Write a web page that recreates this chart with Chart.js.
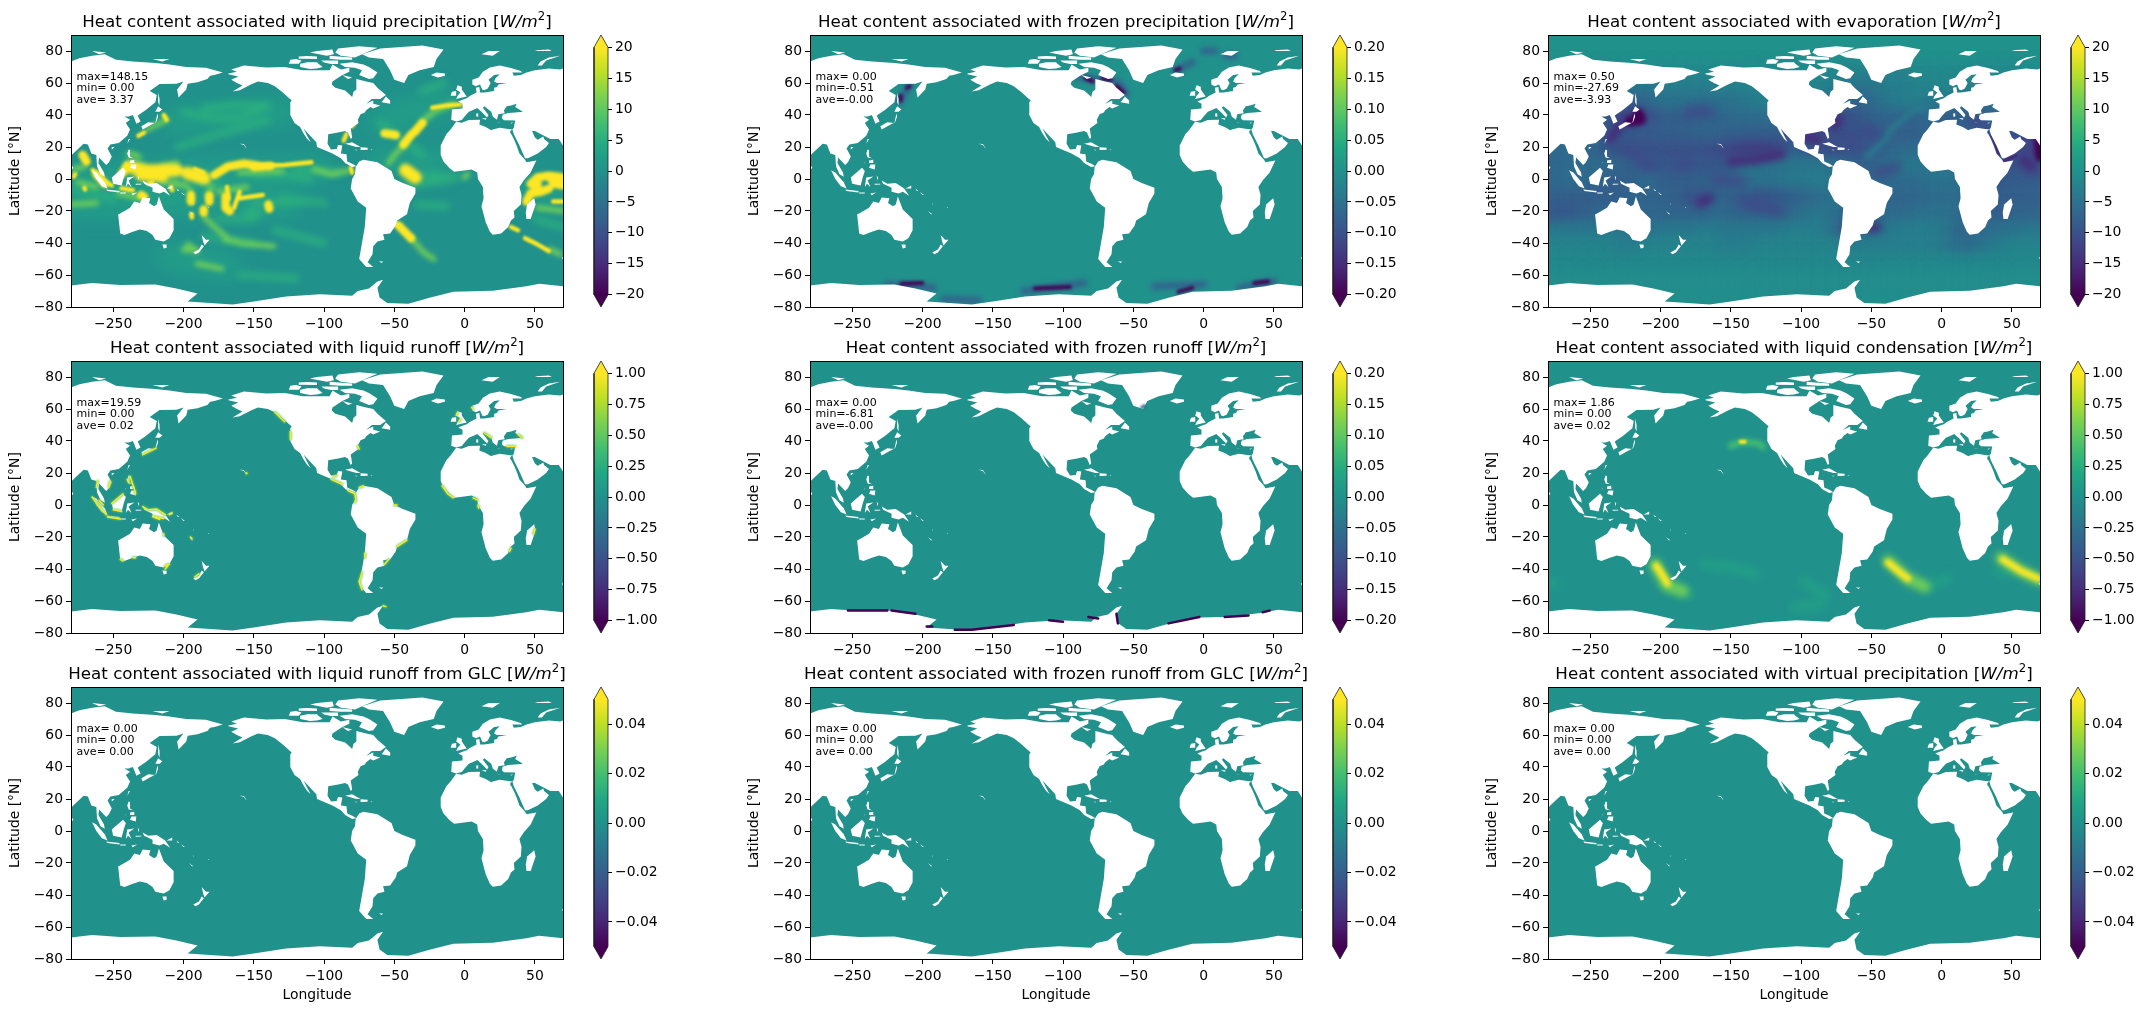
<!DOCTYPE html>
<html><head><meta charset="utf-8">
<style>html,body{margin:0;background:#fff;overflow:hidden}canvas{position:absolute}</style>
<script src="https://cdn.jsdelivr.net/npm/chart.js@4"></script>
</head><body>
<script>
// Axis ticks shared by the nine map panels
const lonTicks = [-250,-200,-150,-100,-50,0,50];
const latTicks = [-80,-60,-40,-20,0,20,40,60,80];

// Panel names and the statistics printed in each map
const panelNames = ['liquid precipitation','frozen precipitation','evaporation','liquid runoff','frozen runoff','liquid condensation','liquid runoff from GLC','frozen runoff from GLC','virtual precipitation'];
const statMax = ['max=148.15','max= 0.00','max= 0.50','max=19.59','max= 0.00','max= 1.86','max= 0.00','max= 0.00','max= 0.00'];
const statMin = ['min= 0.00','min=-0.51','min=-27.69','min= 0.00','min=-6.81','min= 0.00','min= 0.00','min= 0.00','min= 0.00'];
const statAve = ['ave= 3.37','ave=-0.00','ave=-3.93','ave= 0.02','ave=-0.00','ave= 0.02','ave= 0.00','ave= 0.00','ave= 0.00'];

// Colour limits and colour bar ticks
const panelLimits = [20,0.2,20,1,0.2,1,0.05,0.05,0.05];
const ticksWide = [-20,-15,-10,-5,0,5,10,15,20];
const ticksUnit = [-1,-0.75,-0.5,-0.25,0,0.25,0.5,0.75,1];
const ticksTenth = [-0.2,-0.15,-0.1,-0.05,0,0.05,0.1,0.15,0.2];
const ticksSmall = [-0.04,-0.02,0,0.02,0.04];

// Land outlines as lon,lat pairs; eastern longitudes past 75 wrap to the negative side
const landShapes = [
 // Asia, eastern part
 [75.5,72,86,75.5,95,77,104,78,112,74.5,124,73.5,140,72.5,150,71.5,162,70,176,69.5,188,66.5,182,65,179,64.5,177,62.5,170,60.5,163,59.5,162,56,156.5,51,155.5,56,160,61,155,59.5,143,59.3,136,55,141,52.5,140,48,133,43,128,40,127.5,39.5,129.5,36,126.5,34.5,125,38,124,40,121,39,118,39,122,37,119,35,122,31,120,27,114,22.5,108,21.5,106,19,109,14,107,10.5,105,8.7,100,13.5,99.5,10,103.5,4,104,1.4,101,3,98.5,8,98,15,94.5,16,92,21.5,89,22,86.5,20,80.5,15,80,12,77.5,8,75.5,10],
 // Eurasia, western part
 [75,70.6,68,68.5,60,69,50,68,44,66.5,40,65,35,64.5,34,66.5,41,66.5,40,67.5,33,69.3,25,71,18,69.7,13,67,10,63.5,5.5,62,5.5,59,8,58,11,59,12.5,56,14,55.5,16.5,56.5,18.5,60,17,62,21,65,25,65.5,22,63,21,61,23,60,30,60,24,59,23,57.5,21,57,21,55,14,54,11,54,10.5,57.5,8,57,8.5,54,4,52,1.5,50.5,-1.5,49.5,-4.5,48.5,-1.5,47,-1.5,44,-9,43.5,-9.5,37,-6,36,-2,36.8,0,39,3,42,6,43.2,9,44.3,12,42,16,38.5,17,40,13,44.5,14,45.5,19,42,20,39,23,37,24,40.5,27,41,28.5,41,28,43,30,45.5,33,46,37,47,36,45,41.5,42,36,41.5,31,41.2,27,40.2,26.5,38,28,36.7,36,36.5,35,32,34,31,35,28,39,21,43,13,45,13,52,16,58,20,60,22.5,56.5,25,56,26.5,52,24.5,50,26,48,30,50,30,56.5,27,61,25,67,25,70,21,75,20],
 // Africa
 [-6,35.8,-10,31,-13,28,-17,21,-17,15,-15,11,-11,7,-7.5,4.5,-3,5,5,6,9,4,9.5,0,13,-5,13.5,-12,12,-17,15,-27,18,-33,20,-34.8,26,-34,31,-30,33,-26,35.5,-24,35,-20,40,-16,40.5,-10,39,-5,42,-1,47,4,51,11.5,44,10.5,43,12,39,16,37,21,35,25,33,28.5,32.5,30,34,31,31,31.3,25,32,20,31,19,30.5,15,32.5,10.5,34,11,37,3,36.8,-2,35.2],
 [49.5,-12,50.5,-16,47,-25,44,-25,43.5,-21,44.5,-16],
 // North and Central America
 [-168,66,-162,67,-166,68.5,-157,71,-141,69.7,-128,70,-115,68,-108,68,-96,68,-94,71.5,-88,68.5,-82,69.5,-82,67,-87,65,-94,61,-94.5,59,-92,57,-85,55.3,-82,53,-80,51.3,-79,54.5,-77,56,-77,62.5,-70,61,-65,60,-62,57,-56,52.5,-60,50,-66,50,-70,47,-65,49,-65,47,-60,46,-65,44,-67,45,-70,43,-71,41.5,-74,40.5,-76,37,-75.5,35,-81,31.5,-80,26,-81,25,-83,29,-85,30,-90,29,-97,28,-97.5,22,-95,18.5,-91,18.7,-90,21.3,-87,21,-88,16,-84,15.5,-83.5,11,-79.5,9.3,-77,8,-80,7.5,-85,10,-88,13,-94,16,-105,20,-105.5,23,-112,29,-114.5,31.5,-112,27,-109.5,23,-112,25,-115,29,-117,32.5,-121,35,-124,40,-124,48,-123,49,-130,54.5,-135,58,-140,60,-147,61,-152,59,-160,55.5,-165,54.7,-158,58.5,-162,60,-166,62,-161,64,-168,65.5],
 // South America
 [-72,12,-62,10.5,-52,5,-50,0,-44,-2.5,-35,-5.5,-35,-9,-39,-15,-41,-22,-48,-26,-49,-29,-53,-34,-58,-34.5,-57,-38,-62,-39,-65,-42,-65.5,-47,-69,-52,-65,-55,-70,-55,-75,-50,-73,-40,-71,-30,-70,-18,-76,-14,-81,-6,-80,0,-78,3,-77.5,7.5,-75,11],
 // Greenland and the Arctic islands
 [-73,78,-60,81.5,-30,83.5,-15,81,-20,75,-22,70,-32,68,-40,65,-43,60,-50,62,-53,68,-58,75,-68,76],
 [-80,73,-72,71.5,-68,70,-62,66.5,-65,63,-68,62.5,-75,65,-73,68,-78,69.5,-85,70,-89,72],
 [-117,70,-110,68.7,-105,69,-101,70,-104,72,-105,73,-112,73,-117,72],
 [-125,72,-118,72,-116,74,-120,75,-124,74.5],
 [-88,77,-78,76,-70,79,-62,82,-75,83,-90,81.5,-92,79],
 [-96,75,-88,74.6,-80,74.5,-80,76,-90,76.6,-96,77],
 [-118,75.2,-105,75,-105,76.5,-112,76.8,-118,76.5],
 [-102,74,-90,74,-90,71.8,-95,71.8,-100,72.8],
 [-110,79,-98,77,-93,78,-94,81,-105,80],
 [-59,48,-53,47,-53,49,-56,51.5],
 [-87,65,-80,63.5,-83,62.5],
 [-24,65,-20,66.5,-14,66,-14,64.5,-19,63.5],
 [12,78,17,80,25,80,20,77],
 [52,71,55,71,58,74,68,77,60,76,54,73.5],
 [50,80.5,60,81,62,80,52,80],
 [95,80,105,79,100,78],
 [138,75,150,75,145,73.5],
 // British Isles and Mediterranean islands
 [-6,50,1.5,51.5,0,53.5,-2,56,-2,57.7,-5,58.6,-6,56,-3,54,-5,52],
 [-10,52,-6,52,-6,55,-9,54.5],
 [8.3,39,9.7,39,9.7,41,8.3,41],[12.5,38,15.5,38,15.2,37,12.8,37.6],[23.5,35.3,26.2,35.2,26,35.1,23.6,35.1],[32.5,35,34.5,35.5,33.5,34.7],
 // Caribbean
 [-85,22,-80,23,-74,20,-77,20],[-74,19.8,-69,19.5,-69,18.3,-74,18.2],[-78.3,18.5,-76.3,18.2,-77,17.8],[-67,18.5,-65.7,18.4,-66,18],
 // South-east Asia and the western Pacific
 [120,22,122,25,121,25],[109,18.5,111,20,109,20],[120,16,121,18.5,122,18,122,14,124,13,121,13.5],[122,7,126,6,126.5,9,123,9],[117.5,8.5,119.5,11,119,10.5],[122,10,125,10,125,12,122,11.5],
 [109,1,117,7,119,5,117.5,1,116,-4,110,-3],[95,5.5,98,4,104,-2,106,-6,102,-4.5,98,0],[105,-6.5,114.5,-7.5,114.5,-8.5,106,-7.5],[119,-5,120,1,125,1.5,121,-1,123,-5,120.5,-3],[115,-8.5,119,-8.5,119,-9,115,-9],[123,-9,127,-8.5,124,-10.2],[127.5,2,128.5,1,128,-1],[126,-3,130,-3,130,-3.5,126,-3.6],[131,-1,135,-3,141,-2.5,147,-6,150.5,-10.5,146,-8,143,-9,138,-8,138,-5.5,132,-3],[148,-6,152,-4,152,-6],[155,-6,157,-7.5,156,-7.5],[158,-8,161,-10,160,-10],[164,-20,167,-22,166,-22],[177.5,-17.5,178.5,-18,177.5,-18],[167,-15,167.5,-16,167,-16],
 [142,54,143,50,143,46,142,48],[140,35,141.5,41,142,39,140.5,35.5,136,33.5,131,31,130,33,135,35.5],[140,42,142,45.5,145,43.5,143,42],[79.7,9.5,81.7,7,80.5,6,79.8,7],
 [-160,22,-157,21.3,-156,20,-155,19,-155.6,20,-157,21.8],
 // Australia and New Zealand
 [113.5,-22,114,-26,115,-34,118,-35,124,-33,129,-31.5,134,-32.5,138,-35,140,-38,146,-39,150,-37,153,-32,153,-25,146,-19,142.5,-11,141,-16,139,-17,135.5,-15,136.5,-12,131,-11.5,129,-15,125,-14,122,-18,114,-22],
 [145,-41,148,-41,148,-43,146,-43.5],[167,-46,171,-44,173,-41,174.5,-42,171,-46,168.5,-47],[173,-35,176,-38,178.5,-38,175,-41.5,174,-39],
 // Antarctica
 [-285,-67,-265,-65,-245,-66.3,-220,-66,-205,-68.5,-190,-71.5,-197,-76.5,-165,-78.5,-150,-76.5,-127,-73.5,-103,-72,-80,-73,-76,-70,-68,-68.5,-62,-64,-58,-63,-62,-68,-60.5,-74,-55,-77.5,-40,-78,-25,-74.2,-8,-70.5,20,-69.8,44,-67,53,-65.5,75,-67.5,75,-90,-285,-90],
 // Small southern islands
 [-61,-51.5,-58,-51.5,-59,-52.5],[69,-49,70,-49,70,-50]
];

// Liquid precipitation: rain bands as lon,lat polylines, grouped by strength
const rainBase = [[-280,0,-105,6],[-280,-15,-125,-15],[40,-8,70,-8],[-60,10,-20,10],[-205,36,-130,42],[-60,36,-15,48],[-210,-48,-170,-55]];
const rainFaint = [[-200,42,-180,38,-160,38,-142,45],[-204,20,-173,28.6,-140,37],[-185,44,-165,46,-140,46],[-280,-6,-250,-12],[-150,-15,-110,-14],[-130,-12,-100,-15],[-185,-36,-150,-40],[-135,-32,-100,-40],[-160,-60,-120,-62],[-45,-5,-10,0],[-30,15,-60,35],[-30,55,-15,60],[50,-25,70,-30],[-120,7,-90,4],[-30,3,-5,1],[-175,-25,-150,-25],[-34,-16,-13,-17],[-130,3,-110,0],[-240,14,-230,10],[-190,-2,-175,-3],[-155,-20,-145,-22],[-150,3,-120,2]];
const rainMid = [[-43,21,-49,16,-54,10],[-38,-37,-29,-46,-22,-50],[-30,36,-22,42,-8,47],[-185,-24,-178,-30,-170,-36],[-170,-38,-162,-39],[-160,-40,-136,-42],[-197,-41,-190,-45,-200,-44],[-190,-53,-173,-56],[-226,31,-212,37],[-107,6,-95,3,-83,5],[-280,-16,-262,-15],[-278,6,-270,8],[-238,16,-232,14],[-180,-5,-183,-10],[0,1,2,3],[52,-18,70,-20],[61,-44,68,-47],[-207,-3,-203,-4],[-215,8,-205,10],[-215,-2,-205,-2],[-200,-3,-195,-7],[-175,-8,-155,-5],[-275,-2,-262,-5],[-246,-9,-230,-12],[-160,4,-130,5]];
const rainHuge = [[-238,7.5,-225,5,-205,5.5],[-197,3.6,-185,0.5],[-42,5.5,-35,1],[-230,3,-215,2]];
const rainWide = [[-178,2.5,-168.5,7.7,-157,9.5,-147,8.3],[-271.7,15,-269,11],[-194.6,-10,-194.6,-14],[-181.6,-10.5,-181.6,-14],[-185.6,-19,-185.6,-21],[-170,-11,-170,-18,-167,-20],[-139.6,-16,-139,-18.5],[-57,28.5,-49,27.5],[-37.6,28,-43.5,21.5],[-30,35,-36,29],[44,-14,47,-9,54,-8,60,-6],[47,-3,52,1,60,2,70,1],[60,2,64,-3,70,-4],[52,-3,50,-7],[-47,-29,-38,-37],[-230,-10,-228,-11],[-262,3,-256,-3],[-244,3,-240,8],[-150,7.5,-138,8.2]];
const rainThin = [[-147,8.3,-128,8.8,-109,10.4],[-169,-5,-168,-12],[-160,-8,-164,-18],[-160,-12,-143.6,-10],[-194.6,-22,-194,-24],[-278,1.5,-277,3],[-270.5,-5.5,-270,-6.5],[-264.6,5.6,-256,-1.6,-251,-4],[-244,-5.8,-236,-7],[-225,-2.7,-222,-2],[-209,-5,-208,-7],[-192,6,-186,4],[-23,44.5,-12,46,-3,46.5],[-86,24,-84,28],[-80,33,-78,36],[-81,7,-80,4],[-50,-27.5,-47,-29],[33,-30,38,-32],[43,-37,52,-41,60,-45],[63,-14,70,-14],[-232,27,-228,29],[-214,40,-212,37]];

// Evaporation: 10 degree field in W/m2, one row per latitude, plus its sharper features
const evapLons = [-275,-265,-255,-245,-235,-225,-215,-205,-195,-185,-175,-165,-155,-145,-135,-125,-115,-105,-95,-85,-75,-65,-55,-45,-35,-25,-15,-5,5,15,25,35,45,55,65];
const evapLats = [65,55,45,35,25,15,5,-5,-15,-25,-35,-45,-55,-65];
const evapN65 = [-1,-1,-1,-1,-1,-1,-1,-1,-1,-1,-1,-1,-1,-1,-1,-1,-1,-1,-1,-1,-1,-2,-2,-2,-2,-2,-1,-1,-1,-1,-1,-1,-1,-1,-1];
const evapN55 = [-2,-2,-2,-2,-2,-3,-4,-4,-3,-3,-3,-3,-2.5,-2.5,-2,-2,-2,-2,-2,-2,-3,-4,-5,-4,-3,-3,-2,-2,-2,-2,-2,-2,-2,-2,-2];
const evapN45 = [-3,-3,-3,-3,-5,-7,-8,-6,-5,-5,-5,-6,-5,-5,-4,-3,-2,-2,-2,-5,-6,-7,-7,-6,-4,-3,-3,-4,-4,-5,-5,-5,-4,-3,-3];
const evapN35 = [-4,-4,-4,-5,-9,-12,-14,-10,-8,-8,-8,-7,-7,-6,-6,-6,-5,-4,-4,-8,-10,-10,-9,-7,-7,-7,-7,-6,-8,-8,-8,-8,-6,-5,-5];
const evapN25 = [-7,-7,-7,-7,-9,-9,-8.5,-8.5,-8,-8,-7.5,-7,-7.5,-8,-8,-8,-8,-9,-11,-11,-10,-10,-10,-9,-7,-8,-8,-7,-7,-7,-8,-9,-9,-10,-12];
const evapN15 = [-7,-6,-6,-7,-9,-10,-10,-10,-10,-10,-10,-10,-11,-12,-13,-13,-12,-8,-8,-10,-11,-10,-9,-8,-7,-6,-6,-6,-6,-6,-8,-10,-11,-11,-12];
const evapN05 = [-7,-6,-6,-6,-6,-7,-8,-9,-9,-9,-9,-9,-9,-8,-5,-5,-5,-4,-4,-4,-5,-7,-8,-7,-5,-4,-4,-4,-4,-5,-6,-8,-9,-10,-10];
const evapS05 = [-7,-6,-6,-7,-8,-8,-7,-6,-8,-8,-8,-7,-7,-6,-5,-5,-5,-4,-4,-3,-4,-5,-6,-6,-6,-6,-6,-5,-5,-5,-6,-8,-9,-8,-8];
const evapS15 = [-8,-8,-8,-8,-8,-8,-7,-7,-7,-8,-10,-9,-7,-8,-9,-10,-9,-8,-7,-6,-5,-6,-7,-7,-7,-7,-7,-6,-6,-6,-7,-8,-8,-8,-8];
const evapS25 = [-9,-9,-8,-7,-6,-6,-6,-7,-7,-7,-7,-7,-6,-7,-7,-7,-7,-6,-5,-4,-5,-7,-8,-7,-6,-6,-5,-5,-5,-6,-8,-8,-8,-7,-7];
const evapS35 = [-4,-4,-4,-4,-4,-4,-5,-5,-4,-4,-4,-3,-4,-4,-4,-4,-4,-3,-3,-3,-5,-10,-8,-5,-4,-3,-3,-3,-4,-7,-6,-6,-5,-5,-4];
const evapS45 = [-2,-2,-2,-2,-2,-3,-3,-2,-2,-2,-2,-2,-3,-3,-3,-2,-2,-2,-2,-2,-2,-3,-3,-3,-3,-3,-3,-3,-4,-6,-6,-4,-3,-2,-2];
const evapS55 = [-1.5,-1.5,-1.5,-1.5,-1.5,-1.5,-1.5,-1.5,-1.5,-1.5,-1.5,-1.5,-1.5,-1.5,-1.5,-1.5,-1.5,-1.5,-1.5,-1.5,-1.5,-1.5,-1.5,-1.5,-1.5,-1.5,-1.5,-1.5,-1.5,-1.5,-1.5,-1.5,-1.5,-1.5,-1.5];
const evapS65 = [-0.7,-0.7,-0.7,-0.7,-0.7,-0.7,-0.7,-0.7,-0.7,-0.7,-0.7,-0.7,-0.7,-0.7,-0.7,-0.7,-0.7,-0.7,-0.7,-0.7,-0.7,-0.7,-0.7,-0.7,-0.7,-0.7,-0.7,-0.7,-0.7,-0.7,-0.7,-0.7,-0.7,-0.7,-0.7];
const evapRows = [evapN65,evapN55,evapN45,evapN35,evapN25,evapN15,evapN05,evapS05,evapS15,evapS25,evapS35,evapS45,evapS55,evapS65];
const evapDeep = [[-222,36,-214,37],[-216,41,-214,38],[69,24,70,14]];
const evapStrong = [[-236,25,-229,33],[-150,11,-133,12,-114,15.5],[-98,26,-88,25],[-76,33,-73,38],[-172,-15,-165,-12],[-49,-31,-46,-30],[58,12,64,8]];
const evapNarrow = [[36,27,41,16],[45,11.5,53,14.5]];
const evapMid = [[-180,42,-165,42],[-225,18,-215,15],[-213,10,-205,9],[-187,9,-180,10],[-161,0,-142,-2],[-53,31,-47,28],[-68,26,-60,22],[-46,3.5,-32,7.5],[-140,-15,-115,-20],[22,36,30,34],[60,5,68,5]];
const evapLight = [[-10,45,-20,43,-36,31,-41,24,-53,14]];

// Frozen precipitation, deepest and shallower patches
const snowDeep = [[-215.5,49,-215.5,52],[-211,57,-209,58],[-84,63,-79,61],[-72,63,-66,62],[-62,58,-57,54],[-20,68,-17,69],[-215,-65.5,-200,-65],[-120,-68.5,-95,-67.5],[-18,-70.5,-8,-68],[36,-65,46,-64]];
const snowMid = [[-210,58,-216,48],[-90,64,-60,60,-55,53],[-19,68,-8,73],[0,80,8,80],[16,77,22,77],[-225,-66,-192,-68],[-128,-70,-85,-65],[-35,-67,0,-66],[26,-68,50,-64],[-185,-75,-160,-76]];

// Liquid runoff hugging the coasts
const coastRunoff = [[131,31.5,136,33.5,140.5,35.5],[95,5,100,-1,105,-6],[106,-7.5,115,-8.7],[109,1,117,7],[110,-3,116,-4],[100,3,103,0],[122,18,125,10,126,7],[120,16,121,14],[131,-1,135,-3,141,-2.5,147,-6],[138,-7,146,-8.5],[150,-6,152,-5],[107,11,108,15],[99,15,98,11],[-155.5,20,-155,19.5],[-135,58,-128,52],[-124,46,-124,41],[-95,16,-87,13],[-83,9,-78,7,-77.5,3.5,-78,1.5],[-73,-42,-75,-48,-73,-53],[-71,-30,-71,-33],[-48,-26,-41,-22],[-57,-37,-54,-34],[-16,12,-12,7,-8,4.5],[6,4.5,9.5,3],[9.5,0,10,-2],[33,-27,32,-29],[50,-15,49,-18],[-6,56,-5,58],[6,60,5,61],[30,36.5,36,36.5],[41,42,38,44],[168,-45,171,-43],[146,-18,146,-19],[-75,35,-76,37],[-91,18.5,-93,18],[-50,0,-48,0],[-75,11,-72,12],[-58,-63,-56,-63.5],[14,45,19,42],[-3,54,-4,52],[147,-40,149,-38],[115,-34,117,-35],[147,-38,150,-37],[124,-33,126,-33],[166,-21,165,-20],[140,-8,143,-9]];

// Frozen runoff along the ice shelves
const shelfRunoff = [[-253,-66,-225,-66],[-222,-66,-205,-68],[-197,-76,-193,-76],[-177,-78,-165,-78,-135,-75],[-110,-72,-100,-73],[-82,-70,-75,-71],[-62,-68,-61,-74],[-25,-74,-3,-70],[15,-70,32,-69],[42,-67,47,-66]];
const shelfFaint = [[-44,61,-42,62]];

// Liquid condensation patches
const condCore = [[-203,-38,-197,-46,-195,-49],[-38,-36,-30,-42,-24,-46],[43.5,-34,57,-41.5,69,-46]];
const condMid = [[-204,-37,-196,-50,-184,-54],[-38,-35,-24,-46,-12,-51],[42,-33,56,-41,70,-47]];
const condPatch = [[-150,37,-142,39.5,-130,38.5,-127,36]];
const condSpot = [[-143,39.5,-140,39.5]];
const condFaint = [[-196,-50,-178,-56],[-10,-51,5,-46],[40,-42,50,-42],[-169,-36.7,-150,-39,-132,-43],[-98,-47,-90,-53,-82,-56],[-280,-49,-276,-49],[-105,-64,-85,-62]];

// Viridis colour stops
const viridisStops = ['#440154','#482475','#414487','#355f8d','#2a788e','#21918c','#22a884','#44bf70','#7ad151','#bddf26','#fde725'];

function hexRgb(h){return [1,3,5].map(i=>parseInt(h.substr(i,2),16));}
function viridis(t){
  t=Math.min(1,Math.max(0,t));
  const p=t*(viridisStops.length-1), i=Math.min(viridisStops.length-2,Math.floor(p)), f=p-i;
  const a=hexRgb(viridisStops[i]), b=hexRgb(viridisStops[i+1]);
  return 'rgb('+a.map((v,k)=>Math.round(v+(b[k]-v)*f)).join(',')+')';
}
function wrapLon(lon){return lon>75?lon-360:lon;}
// Flatten polylines into scatter points with gaps between them
function toPoints(lines){
  const out=[];
  lines.forEach(l=>{
    for(let i=0;i<l.length;i+=2) out.push({x:wrapLon(l[i]),y:l[i+1]});
    out.push({x:NaN,y:NaN});
  });
  return out;
}
function landDataset(){
  return {data:toPoints(landShapes),showLine:true,fill:'shape',backgroundColor:'#ffffff',borderWidth:0,pointRadius:0,tension:0,clip:0};
}
function bandDataset(lines,value,limit,width,blur){
  return {data:toPoints(lines),showLine:true,fill:false,borderColor:viridis((value+limit)/(2*limit)),borderWidth:width,borderCapStyle:'round',borderJoinStyle:'round',pointRadius:0,tension:0,clip:0,blurPx:blur};
}
function fieldDataset(rows,lats,lons,limit,radius,blur){
  const data=[],colors=[];
  rows.forEach((row,j)=>row.forEach((v,i)=>{data.push({x:lons[i],y:lats[j]});colors.push(viridis((v+limit)/(2*limit)));}));
  return {data,showLine:false,pointStyle:'rect',pointRadius:radius,pointBackgroundColor:colors,pointBorderWidth:0,clip:0,blurPx:blur};
}

// Paint order for each panel: layers under the land, then the land, then layers over it
const panelLayers = [
 {under:[[rainBase,2,28,9],[rainFaint,5,7,3.5],[rainMid,11,5.5,2.5],[rainHuge,20,13,2],[rainWide,20,8.5,1.8],[rainThin,20,4.5,1.3]],over:[]},
 {under:[[snowMid,-0.07,7,2.5],[snowDeep,-0.2,4,1.5]],over:[]},
 {field:true,under:[[evapLight,-3.5,5,2.5],[evapMid,-11,10,5],[evapStrong,-15,9,3.5],[evapNarrow,-15,3,0.6],[evapDeep,-20,10,2]],over:[]},
 {under:[],over:[[coastRunoff,0.5,2.5,1],[coastRunoff,1,1.5,0.4]]},
 {under:[],over:[[shelfFaint,-0.07,3,1],[shelfRunoff,-0.2,2.5,0.5]]},
 {under:[[condFaint,0.14,9,4],[condMid,0.55,12,3.5],[condPatch,0.4,6,2.5],[condCore,1,7,2],[condSpot,1,4,1]],over:[]},
 {under:[],over:[]},{under:[],over:[]},{under:[],over:[]}
];
const panelTicks = [ticksWide,ticksTenth,ticksWide,ticksUnit,ticksTenth,ticksUnit,ticksSmall,ticksSmall,ticksSmall];
const tickDigits = [0,2,0,2,2,2,2,2,2];

const plotLefts=[71,810,1548], plotTops=[35,361,687], plotW=492, plotH=272, barOffset=523, barW=14, barPad=12;
const tickFont={family:'DejaVu Sans',size:13.9};
const textFont='"DejaVu Sans"';

function minus(s){return String(s).replace('-','\u2212');}

const blurPlugin={id:'softEdge',
  beforeDatasetDraw(c,a){const b=c.data.datasets[a.index].blurPx;if(b)c.ctx.filter='blur('+b+'px)';},
  afterDatasetDraw(c,a){if(c.data.datasets[a.index].blurPx)c.ctx.filter='none';}
};
const framePlugin={id:'frame',
  beforeDatasetsDraw(c){const {left,top,width,height}=c.chartArea;c.ctx.save();c.ctx.fillStyle=viridis(0.5);c.ctx.fillRect(left,top,width,height);c.ctx.restore();},
  afterDatasetsDraw(c){const {left,top,right,bottom}=c.chartArea;const x=c.ctx;x.save();x.strokeStyle='#000';x.lineWidth=1;x.strokeRect(left+0.5,top+0.5,right-left,bottom-top);x.restore();}
};
function labelPlugin(n){return {id:'panelText',afterDraw(c){
  const x=c.ctx,{left,right,top}=c.chartArea;
  x.save();x.fillStyle='#000';x.textBaseline='alphabetic';
  const runs=[['Heat content associated with '+panelNames[n]+' [','16.7px '+textFont,0],['W/m','italic 16.7px '+textFont,0],['2','11.7px '+textFont,6.8],[']','16.7px '+textFont,0]];
  let w=0;runs.forEach(r=>{x.font=r[1];w+=x.measureText(r[0]).width;});
  let px=(left+right)/2-w/2;
  runs.forEach(r=>{x.font=r[1];x.fillText(r[0],px,top-8-r[2]);px+=x.measureText(r[0]).width;});
  x.font='11px '+textFont;x.textBaseline='middle';
  const sx=c.scales.x.getPixelForValue(-276);
  [statMax[n],statMin[n],statAve[n]].forEach((t,i)=>x.fillText(t,sx,top+42+i*11.5));
  x.restore();
}};}

function makeCanvas(l,t,w,h){const c=document.createElement('canvas');c.width=w;c.height=h;c.style.left=l+'px';c.style.top=t+'px';c.style.width=w+'px';c.style.height=h+'px';document.body.appendChild(c);return c;}

for(let n=0;n<9;n++){
  const col=n%3,row=Math.floor(n/3),limit=panelLimits[n],spec=panelLayers[n];
  const bottomRow=row===2, H=35+plotH+(bottomRow?53:40), W=71+plotW+20;
  const list=[];
  if(spec.field) list.push(fieldDataset(evapRows,evapLats,evapLons,limit,17,6));
  spec.under.forEach(s=>list.push(bandDataset(s[0],s[1],limit,s[2],s[3])));
  list.push(landDataset());
  spec.over.forEach(s=>list.push(bandDataset(s[0],s[1],limit,s[2],s[3])));
  list.forEach((d,i)=>{d.order=-i;});
  new Chart(makeCanvas(plotLefts[col]-71,plotTops[row]-35,W,H),{
    type:'scatter',data:{datasets:list},
    options:{responsive:false,animation:false,events:[],
      layout:{padding:{top:35,right:20,left:0,bottom:0}},
      plugins:{legend:{display:false},tooltip:{enabled:false}},
      scales:{
        x:{type:'linear',min:-280,max:70,
          afterBuildTicks:s=>{s.ticks=lonTicks.map(value=>({value}));},
          afterFit:s=>{s.height=H-35-plotH;},
          border:{display:false},
          grid:{drawOnChartArea:false,drawTicks:true,tickLength:5,tickColor:'#000',tickWidth:1},
          ticks:{color:'#000',font:tickFont,padding:4,maxRotation:0,autoSkip:false,callback:minus},
          title:{display:bottomRow,text:'Longitude',color:'#000',font:{family:'DejaVu Sans',size:13.9},padding:{top:0,bottom:8}}},
        y:{type:'linear',min:-80,max:90,
          afterBuildTicks:s=>{s.ticks=latTicks.map(value=>({value}));},
          afterFit:s=>{s.width=71;},
          border:{display:false},
          grid:{drawOnChartArea:false,drawTicks:true,tickLength:5,tickColor:'#000',tickWidth:1},
          ticks:{color:'#000',font:tickFont,padding:3,autoSkip:false,callback:minus},
          title:{display:true,text:'Latitude [\u00b0N]',color:'#000',font:{family:'DejaVu Sans',size:13.9},padding:{top:7.5,bottom:0}}}
      }},
    plugins:[framePlugin,blurPlugin,labelPlugin(n)]
  });

  // Colour bar with pointed ends for out-of-range values
  const ticks=panelTicks[n],digits=tickDigits[n];
  const cap=limit*1.1;
  new Chart(makeCanvas(plotLefts[col]+barOffset-2,plotTops[row]-barPad,70,plotH+2*barPad),{
    type:'scatter',
    data:{datasets:[{
      data:[{x:0,y:-limit},{x:0.5,y:-cap},{x:1,y:-limit},{x:1,y:limit},{x:0.5,y:cap},{x:0,y:limit},{x:0,y:-limit}],
      showLine:true,fill:'shape',tension:0,pointRadius:0,clip:false,borderColor:'#222',borderWidth:0.8,
      backgroundColor:ctx=>{
        const c=ctx.chart;if(!c.chartArea)return viridis(0.5);
        const y=c.scales.y,g=c.ctx.createLinearGradient(0,y.getPixelForValue(-limit),0,y.getPixelForValue(limit));
        viridisStops.forEach((s,i)=>g.addColorStop(i/(viridisStops.length-1),s));
        return g;
      }}]},
    options:{responsive:false,animation:false,events:[],
      layout:{padding:{top:barPad,bottom:barPad,left:2,right:0}},
      plugins:{legend:{display:false},tooltip:{enabled:false}},
      scales:{
        x:{type:'linear',display:false,min:0,max:1},
        y:{type:'linear',position:'right',min:-cap,max:cap,
          afterBuildTicks:s=>{s.ticks=ticks.map(value=>({value}));},
          afterFit:s=>{s.width=70-2-barW;},
          border:{display:false},
          grid:{drawOnChartArea:false,drawTicks:true,tickLength:4,tickColor:'#000',tickWidth:1},
          ticks:{color:'#000',font:tickFont,padding:3,autoSkip:false,callback:v=>minus(v.toFixed(digits))}}
      }}
  });
}
</script>
</body></html>
